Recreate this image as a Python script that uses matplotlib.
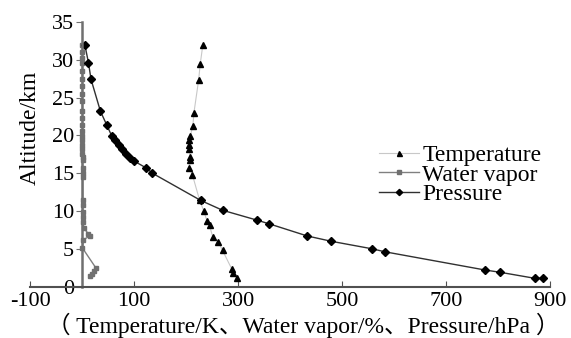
import matplotlib
matplotlib.use("Agg")
import matplotlib.pyplot as plt

plt.rcParams['font.family'] = ['Liberation Serif', 'Noto Sans CJK SC']
plt.rcParams['axes.unicode_minus'] = False

# altitude (km) and values
temp_alt = [31.9, 29.4, 27.3, 23.0, 21.3, 19.9, 19.4, 18.7, 18.2, 17.2, 16.7, 15.7,
            14.8, 11.4, 10.0, 8.7, 8.1, 6.6, 5.9, 4.8, 2.3, 1.8, 1.1]
temp_val = [232, 227, 224, 215, 213, 208, 206, 205, 206, 208, 208, 206,
            212, 226, 234, 240, 245, 251, 262, 270, 288, 291, 298]

vapor_alt = [32.0, 31.0, 30.2, 29.6, 28.5, 27.4, 26.5, 25.5, 24.5, 23.2, 22.3, 21.4,
             20.6, 19.9, 19.4, 18.7, 18.2, 17.6, 17.2, 16.7, 15.7, 15.0, 14.5,
             11.5, 10.8, 9.9, 9.2, 8.6, 7.7, 7.0, 6.7, 6.2, 5.1, 2.4, 2.1, 1.7, 1.4]
vapor_val = [0.2, 0.2, 0.2, 0.3, 0.2, 0.3, 0.2, 0.3, 0.3, 0.3, 0.4, 0.4,
             0.4, 0.5, 0.5, 0.5, 0.5, 0.5, 0.6, 0.6, 0.7, 0.8, 0.8,
             0.9, 1.0, 1.2, 1.5, 2.0, 3.0, 12, 15, 2.0, 0.5, 27, 22, 19, 15]

pres_alt = [32.0, 29.6, 27.4, 23.2, 21.4, 19.9, 19.4, 18.7, 18.2, 17.6, 17.0, 16.6,
            15.7, 15.0, 11.4, 10.1, 8.8, 8.3, 6.7, 6.0, 5.0, 4.6, 2.2, 1.9, 1.1, 1.1]
pres_val = [5, 12, 17, 35, 47, 57, 64, 71, 77, 84, 92, 100,
            123, 135, 228, 270, 336, 360, 433, 479, 558, 583, 775, 804, 871, 887]

xticks = [-100, 100, 300, 500, 700, 900]
yticks = [0, 5, 10, 15, 20, 25, 30, 35]

fig = plt.figure(figsize=(5.71, 3.38), dpi=100)
ax = fig.add_axes([0.053, 0.152, 0.910, 0.783])

ax.plot(temp_val, temp_alt, color='#c8c8c8', lw=0.8, marker='^', ms=4.5,
        mfc='black', mec='black', label='Temperature')
ax.plot(vapor_val, vapor_alt, color='#808080', lw=1.0, marker='s', ms=3.2,
        mfc='#707070', mec='#707070', label='Water vapor')
ax.plot(pres_val, pres_alt, color='#303030', lw=1.0, marker='D', ms=4,
        mfc='black', mec='black', label='Pressure')

ax.set_xlim(-100, 900)
ax.set_ylim(0, 35)
ax.set_xticks(xticks)
ax.set_yticks(yticks)

ax.spines['top'].set_visible(False)
ax.spines['right'].set_visible(False)
ax.spines['left'].set_position(('data', 0))
ax.spines['left'].set_color('#707070')
ax.spines['left'].set_linewidth(1.8)
ax.spines['bottom'].set_color('#505050')
ax.spines['bottom'].set_linewidth(1.5)

ax.tick_params(axis='x', direction='in', length=4, labelsize=16, pad=4, color='#505050')
ax.tick_params(axis='y', direction='out', length=4, labelsize=16, pad=2, color='#707070')

ax.set_xlabel('（ Temperature/K、Water vapor/%、Pressure/hPa ）', fontsize=17)
ax.xaxis.set_label_coords(0.525, -0.1)
ax.set_ylabel('Altitude/km', fontsize=17)
ax.yaxis.set_label_coords(0.02, 0.6)

ax.legend(loc='upper left', bbox_to_anchor=(0.648, 0.58), frameon=False, fontsize=17,
          handlelength=1.7, handletextpad=0.15, labelspacing=-0.1, borderpad=0,
          markerscale=0.8)

fig.savefig('out.png', dpi=100)
